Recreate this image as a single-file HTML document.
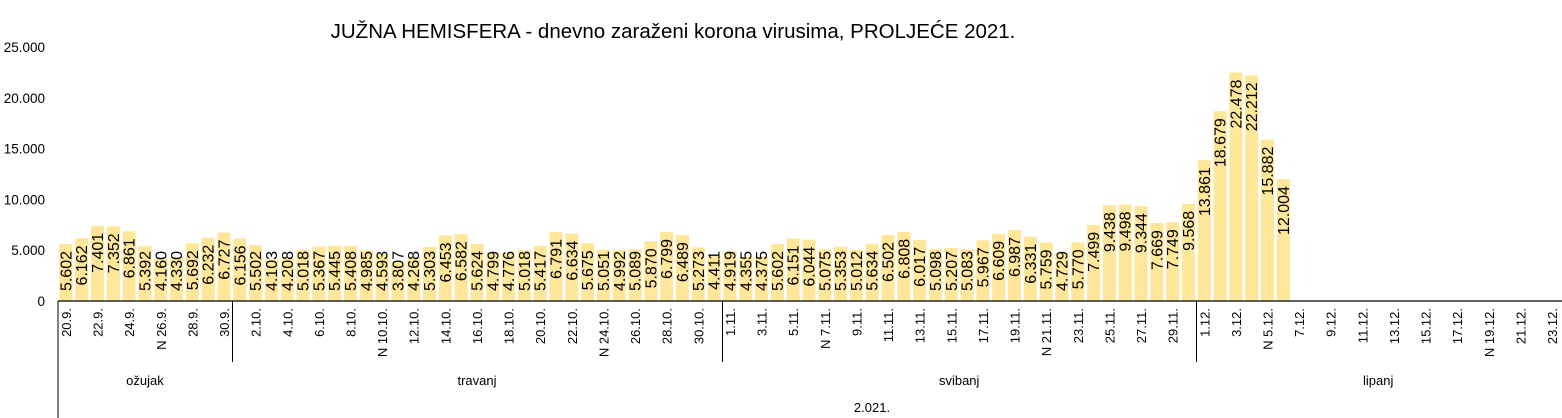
<!DOCTYPE html>
<html><head><meta charset="utf-8"><style>body{margin:0;background:#fff}svg{display:block;font-family:"Liberation Sans",sans-serif}</style></head>
<body>
<svg id="s" width="1562" height="418" xmlns="http://www.w3.org/2000/svg"></svg>
<script>
const vals=[5602,6162,7401,7352,6861,5392,4160,4330,5692,6232,6727,
6156,5502,4103,4208,5018,5367,5445,5408,4985,4593,3807,4268,5303,6453,6582,5624,4799,4776,5018,5417,6791,6634,5675,5051,4992,5089,5870,6799,6489,5273,4411,
4919,4355,4375,5602,6151,6044,5075,5353,5012,5634,6502,6808,6017,5098,5207,5083,5967,6609,6987,6331,5759,4729,5770,7499,9438,9498,9344,7669,7749,9568,
13861,18679,22478,22212,15882,12004];
const x0=58,W=1502/95,y0=301,k=254/25000;
let h='';
h+='<text x="673" y="38" font-size="20.5" text-anchor="middle">JUŽNA HEMISFERA - dnevno zaraženi korona virusima, PROLJEĆE 2021.</text>';
for(let v=0;v<=25000;v+=5000){const y=y0-v*k;h+=`<text x="45" y="${y+5}" font-size="13.5" text-anchor="end">${v?v.toLocaleString('de-DE'):0}</text>`;}
const fmt=v=>String(v).replace(/(\d)(\d{3})$/,'$1.$2');
vals.forEach((v,i)=>{const cx=x0+(i+.5)*W,t=y0-v*k;h+=`<rect x="${cx-6.5}" y="${t}" width="13" height="${y0-t}" fill="#FFE699"/>`;
const s=fmt(v),len=s.length*9.6;let top=Math.min(t+7,y0-2-len);
h+=`<text transform="translate(${cx+5.5},${top}) rotate(-90)" font-size="16" text-anchor="end">${s}</text>`;});
const days=[];for(let d=20;d<=30;d++)days.push([d,9]);for(let d=1;d<=31;d++)days.push([d,10]);for(let d=1;d<=30;d++)days.push([d,11]);for(let d=1;d<=23;d++)days.push([d,12]);
const sundays={"26.9":1,"10.10":1,"24.10":1,"7.11":1,"21.11":1,"5.12":1,"19.12":1};
days.forEach((d,i)=>{if(i%2)return;const cx=x0+(i+.5)*W;const key=d[0]+'.'+d[1];
h+=`<text transform="translate(${cx+5},308) rotate(-90)" font-size="13" text-anchor="end">${sundays[key]?'N ':''}${key}.</text>`;});
h+=`<line x1="${x0}" y1="${y0}" x2="1562" y2="${y0}" stroke="#000" stroke-width="1.2"/>`;
h+=`<line x1="${x0}" y1="${y0}" x2="${x0}" y2="418" stroke="#000"/>`;
[11,42,72].forEach(i=>{const x=Math.round(x0+i*W)+.5;h+=`<line x1="${x}" y1="${y0}" x2="${x}" y2="362" stroke="#000"/>`;});
[['ožujak',0,11],['travanj',11,42],['svibanj',42,72],['lipanj',72,95]].forEach(m=>{h+=`<text x="${x0+(m[1]+m[2])/2*W}" y="385" font-size="13" text-anchor="middle">${m[0]}</text>`;});
h+=`<text x="872" y="412" font-size="13" text-anchor="middle">2.021.</text>`;
document.getElementById('s').innerHTML=h;
</script>
</body></html>
